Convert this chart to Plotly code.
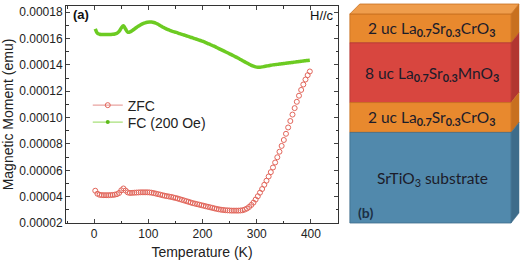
import plotly.graph_objects as go

# ---------------- data ----------------
T = list(range(2, 400, 4))  # temperature grid (K)

zfc = [0.0000445, 0.0000422, 0.0000414, 0.0000412, 0.0000411, 0.0000411, 0.0000411, 0.0000412, 0.0000413, 0.0000415,
       0.0000419, 0.0000428, 0.0000448, 0.0000462, 0.0000446, 0.0000432, 0.0000428, 0.0000429, 0.0000430, 0.0000431,
       0.0000432, 0.0000433, 0.0000433, 0.0000433, 0.0000433, 0.0000432, 0.0000430, 0.0000427, 0.0000423, 0.0000419,
       0.0000415, 0.0000411, 0.0000407, 0.0000404, 0.0000401, 0.0000398, 0.0000394, 0.0000390, 0.0000386, 0.0000381,
       0.0000376, 0.0000371, 0.0000366, 0.0000361, 0.0000356, 0.0000351, 0.0000347, 0.0000343, 0.0000339, 0.0000335,
       0.0000331, 0.0000327, 0.0000323, 0.0000319, 0.0000315, 0.0000311, 0.0000307, 0.0000304, 0.0000301, 0.0000299,
       0.0000297, 0.0000296, 0.0000295, 0.0000294, 0.0000294, 0.0000294, 0.0000294, 0.0000295, 0.0000297, 0.0000302,
       0.0000310, 0.0000322, 0.0000337, 0.0000355, 0.0000378, 0.0000403, 0.0000430, 0.0000458, 0.0000490, 0.0000521,
       0.0000553, 0.0000586, 0.0000621, 0.0000659, 0.0000699, 0.0000741, 0.0000785, 0.0000830, 0.0000877, 0.0000925,
       0.0000974, 0.0001023, 0.0001072, 0.0001120, 0.0001166, 0.0001210, 0.0001251, 0.0001289, 0.0001322, 0.0001350]

fc = [0.0001673, 0.0001640, 0.0001633, 0.0001631, 0.0001630, 0.0001630, 0.0001630, 0.0001631, 0.0001632, 0.0001634,
      0.0001640, 0.0001655, 0.0001680, 0.0001698, 0.0001672, 0.0001648, 0.0001650, 0.0001660, 0.0001672, 0.0001684,
      0.0001695, 0.0001705, 0.0001713, 0.0001719, 0.0001723, 0.0001725, 0.0001725, 0.0001722, 0.0001716, 0.0001708,
      0.0001698, 0.0001688, 0.0001680, 0.0001672, 0.0001665, 0.0001658, 0.0001653, 0.0001648, 0.0001643, 0.0001637,
      0.0001632, 0.0001627, 0.0001621, 0.0001616, 0.0001610, 0.0001605, 0.0001599, 0.0001594, 0.0001588, 0.0001582,
      0.0001576, 0.0001569, 0.0001562, 0.0001555, 0.0001547, 0.0001540, 0.0001532, 0.0001524, 0.0001516, 0.0001508,
      0.0001500, 0.0001492, 0.0001484, 0.0001476, 0.0001467, 0.0001459, 0.0001450, 0.0001441, 0.0001432, 0.0001423,
      0.0001414, 0.0001405, 0.0001397, 0.0001390, 0.0001385, 0.0001383, 0.0001383, 0.0001385, 0.0001388, 0.0001391,
      0.0001394, 0.0001397, 0.0001400, 0.0001402, 0.0001404, 0.0001406, 0.0001408, 0.0001410, 0.0001413, 0.0001415,
      0.0001417, 0.0001419, 0.0001421, 0.0001423, 0.0001425, 0.0001427, 0.0001430, 0.0001432, 0.0001434, 0.0001436]

x_ticks = [0, 100, 200, 300, 400]
y_ticks = [0.00002, 0.00004, 0.00006, 0.00008, 0.00010, 0.00012, 0.00014, 0.00016, 0.00018]
y_ticklabels = ["0.00002", "0.00004", "0.00006", "0.00008", "0.00010", "0.00012", "0.00014", "0.00016", "0.00018"]

series_names = ["ZFC", "FC (200 Oe)"]

layers = [  # (label html, front color, side color, top px, bottom px)
    ("2 uc La<sub><b>0.7</b></sub>Sr<sub><b>0.3</b></sub>CrO<sub><b>3</b></sub>", "#E8892E", "#C8701F", 13, 42),
    ("8 uc La<sub><b>0.7</b></sub>Sr<sub><b>0.3</b></sub>MnO<sub><b>3</b></sub>", "#D8463F", "#B23631", 42, 102),
    ("2 uc La<sub><b>0.7</b></sub>Sr<sub><b>0.3</b></sub>CrO<sub><b>3</b></sub>", "#E8892E", "#C8701F", 102, 132),
    ("SrTiO<sub>3</sub> substrate", "#5189AC", "#3E6C8A", 132, 223),
]

# ---------------- figure ----------------
W, H = 520, 264
L, R, TOP, B = 63, 182, 5, 41
pw, ph = W - L - R, H - TOP - B


def px(xp):
    return (xp - L) / pw


def py(yp):
    return (H - B - yp) / ph


fig = go.Figure()
fig.add_trace(go.Scatter(x=T, y=zfc, mode="markers", showlegend=False,
                         marker=dict(symbol="circle-open", size=5, color="#E2655A", line=dict(width=1))))
fig.add_trace(go.Scatter(x=T, y=fc, mode="lines", showlegend=False,
                         line=dict(color="#6CCB22", width=3.5, shape="spline")))
# legend entries (one legend each, to control row spacing)
fig.add_trace(go.Scatter(x=[None], y=[None], mode="lines+markers", name=series_names[0], legend="legend",
                         line=dict(color="#E9A3A0", width=1.2),
                         marker=dict(symbol="circle-open", size=5, color="#E2655A", line=dict(width=1))))
fig.add_trace(go.Scatter(x=[None], y=[None], mode="lines+markers", name=series_names[1], legend="legend2",
                         line=dict(color="#A8E07A", width=1.2),
                         marker=dict(symbol="circle", size=4, color="#5DBB1A")))

axis_font = dict(family="Arial, Liberation Sans", size=12, color="#222")
fig.update_xaxes(range=[-52, 450], tickvals=x_ticks, ticks="inside", ticklen=4, tickwidth=1,
                 showline=True, linecolor="#333", linewidth=1, mirror="ticks", showgrid=False, zeroline=False,
                 tickfont=axis_font,
                 minor=dict(dtick=50, tick0=0, ticks="inside", ticklen=2.5, tickcolor="#333"),
                 title=dict(text="Temperature (K)", font=dict(family="Arial, Liberation Sans", size=14, color="#222"),
                            standoff=6))
fig.update_yaxes(range=[0.00002, 0.0001847], tickvals=y_ticks, ticktext=y_ticklabels, ticks="inside", ticklen=4,
                 tickwidth=1, showline=True, linecolor="#333", linewidth=1, mirror="ticks", showgrid=False,
                 zeroline=False, tickfont=axis_font,
                 minor=dict(dtick=0.00001, tick0=0, ticks="inside", ticklen=2.5, tickcolor="#333"),
                 title=dict(text="Magnetic Moment (emu)", font=dict(family="Arial, Liberation Sans", size=14,
                                                                    color="#222"), standoff=4))

shapes = []
annotations = []
x0, x1 = 350, 513
dx, dy = 8, -10
# side faces and front faces
for lab, col, side, t, b in layers:
    shapes.append(dict(type="path", xref="paper", yref="paper",
                       path=f"M {px(x1)},{py(t)} L {px(x1+dx)},{py(t+dy)} L {px(x1+dx)},{py(b+dy)} L {px(x1)},{py(b)} Z",
                       fillcolor=side, line=dict(color=side, width=0.5), layer="above"))
    shapes.append(dict(type="rect", xref="paper", yref="paper", x0=px(x0), x1=px(x1), y0=py(b), y1=py(t),
                       fillcolor=col, line=dict(color=side, width=0.8), layer="above"))
    annotations.append(dict(text=lab, xref="paper", yref="paper", x=px((x0 + x1) / 2 + 2), y=py((t + b) / 2 + 1),
                            showarrow=False, xanchor="center", yanchor="middle",
                            font=dict(family="Lato, Carlito, sans-serif", size=15.5, color="#1c1c2a")))
# top face
t0 = layers[0][3]
shapes.append(dict(type="path", xref="paper", yref="paper",
                   path=f"M {px(x0)},{py(t0)} L {px(x0+dx+2)},{py(t0+dy)} L {px(x1+dx)},{py(t0+dy)} L {px(x1)},{py(t0)} Z",
                   fillcolor="#EF9D4C", line=dict(color="#C8701F", width=0.8), layer="above"))

annotations.append(dict(text="<b>(b)</b>", xref="paper", yref="paper", x=px(356), y=py(212), showarrow=False,
                        xanchor="left", yanchor="middle",
                        font=dict(family="Lato, sans-serif", size=14, color="#1b2f45")))
annotations.append(dict(text="<b>(a)</b>", xref="paper", yref="paper", x=px(68), y=py(14), showarrow=False,
                        xanchor="left", yanchor="middle",
                        font=dict(family="Arial, Liberation Sans", size=13, color="#111")))
annotations.append(dict(text="H//c", xref="paper", yref="paper", x=px(336), y=py(15), showarrow=False,
                        xanchor="right", yanchor="middle",
                        font=dict(family="Arial, Liberation Sans", size=13, color="#111")))

leg_common = dict(xanchor="left", yanchor="middle", bgcolor="rgba(0,0,0,0)",
                  font=dict(family="Arial, Liberation Sans", size=14, color="#222"), itemwidth=30)
fig.update_layout(width=W, height=H, margin=dict(l=L, r=R, t=TOP, b=B),
                  paper_bgcolor="white", plot_bgcolor="white",
                  shapes=shapes, annotations=annotations,
                  legend=dict(x=px(85), y=py(105), **leg_common),
                  legend2=dict(x=px(85), y=py(122), **leg_common))

fig.write_html("out.html", config={"displayModeBar": False},
               post_script="document.body.style.margin='0';document.body.style.padding='0';")
